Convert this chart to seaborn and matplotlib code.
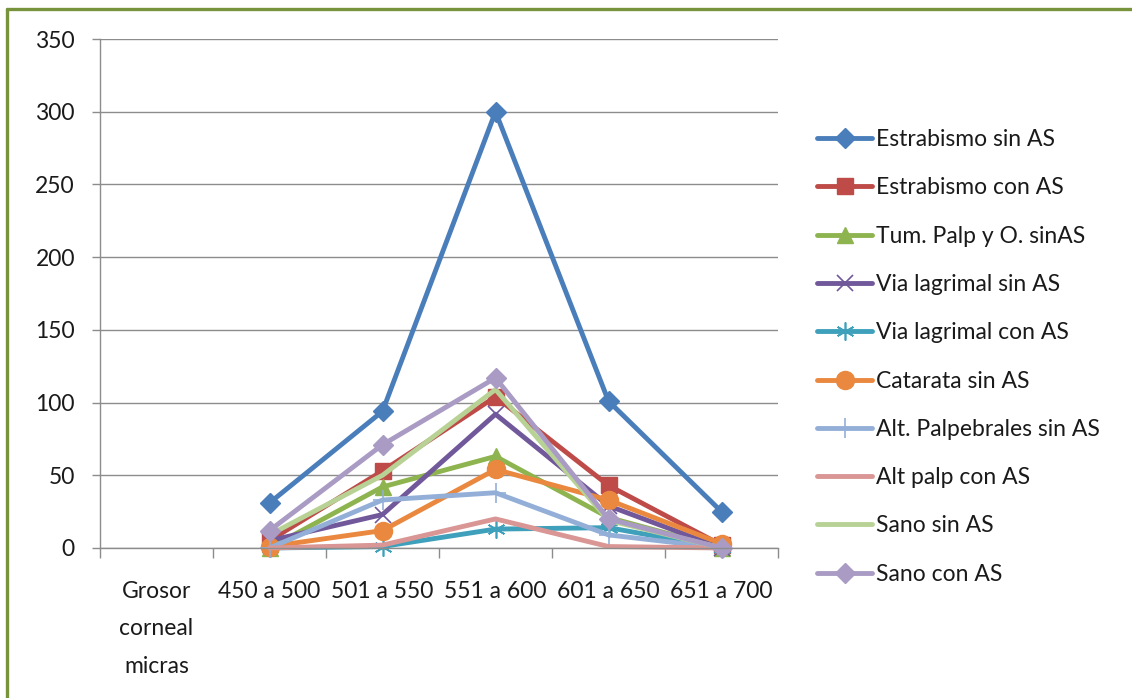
import matplotlib
matplotlib.use("Agg")
import matplotlib.pyplot as plt
from matplotlib.lines import Line2D
import seaborn as sns
import pandas as pd
import numpy as np

# Corneal thickness ranges (first slot is the axis caption, no data)
categories = ["Grosor\ncorneal\nmicras", "450 a 500", "501 a 550", "551 a 600",
              "601 a 650", "651 a 700"]

estrabismo_sin_as = [31, 94, 300, 101, 25]
estrabismo_con_as = [5, 53, 104, 43, 2]
tum_palp_sin_as = [0, 42, 63, 21, 0]
via_lagrimal_sin_as = [5, 23, 92, 29, 0]
via_lagrimal_con_as = [0, 1, 13, 14, 0]
catarata_sin_as = [1, 12, 54, 33, 3]
alt_palpebrales_sin_as = [0, 33, 38, 9, 0]
alt_palp_con_as = [0, 2, 20, 1, 0]
sano_sin_as = [9, 50, 109, 19, 0]
sano_con_as = [12, 71, 117, 20, 0]

series_names = ["Estrabismo sin AS", "Estrabismo con AS", "Tum. Palp y O. sinAS",
                "Via lagrimal sin AS", "Via lagrimal con AS", "Catarata sin AS",
                "Alt. Palpebrales sin AS", "Alt palp con AS", "Sano sin AS",
                "Sano con AS"]
series_values = [estrabismo_sin_as, estrabismo_con_as, tum_palp_sin_as,
                 via_lagrimal_sin_as, via_lagrimal_con_as, catarata_sin_as,
                 alt_palpebrales_sin_as, alt_palp_con_as, sano_sin_as, sano_con_as]

colors = ["#4A7EBB", "#BE4B48", "#8EB44F", "#71589A", "#3EA0BB", "#E9883E",
          "#93AFD8", "#D99694", "#B8D295", "#A99BC4"]
markers = ["D", "s", "^", "x", (6, 2, 0), "o", "+", "", "", "D"]
msizes = [10, 12, 11, 12, 13, 13, 15, 0, 0, 10]

sns.set_theme(style="white")
plt.rcParams["font.family"] = ["Lato", "DejaVu Sans"]

FS = 16.5
fig = plt.figure(figsize=(11.32, 6.98), dpi=100)
ax = fig.add_axes([100 / 1132, 1 - 548 / 698, 678 / 1132, 509 / 698])

# Data starts at the second slot (index 1)
x_idx = list(range(1, len(categories)))
for name, vals, col, mk, ms in zip(series_names, series_values, colors, markers, msizes):
    df = pd.DataFrame({"rango": x_idx, "valor": vals})
    sns.lineplot(data=df, x="rango", y="valor", ax=ax, color=col, lw=3.5,
                 marker=mk, markersize=ms, markeredgecolor=col,
                 markeredgewidth=1.2 if mk in ("x", "+", (6, 2, 0)) else 1.0,
                 label=name, clip_on=False)

ax.set_xlim(-0.5, len(categories) - 0.5)
ax.set_ylim(0, 350)
ax.set_yticks(np.arange(0, 351, 50))
ax.yaxis.grid(True, color="#8C8C8C", lw=1.0)
ax.xaxis.grid(False)

ax.set_xticks(range(len(categories)))
ax.set_xticklabels(categories, fontsize=FS, color="#1a1a1a", linespacing=1.95)
ax.set_xticks(np.arange(-0.5, len(categories), 1.0), minor=True)
ax.tick_params(axis="x", which="major", length=0, pad=24)
ax.tick_params(axis="x", which="minor", length=7, width=1, color="#8C8C8C",
               direction="out", bottom=True)
ax.tick_params(axis="y", length=6, width=1, color="#8C8C8C", direction="out",
               left=True, pad=12, labelsize=FS, labelcolor="#1a1a1a")
ax.set_xlabel("")
ax.set_ylabel("")

for side in ["top", "right"]:
    ax.spines[side].set_visible(False)
for side in ["left", "bottom"]:
    ax.spines[side].set_color("#8C8C8C")
    ax.spines[side].set_linewidth(1.0)

handles, labels = ax.get_legend_handles_labels()
ax.legend(handles, labels, loc="upper left", bbox_to_anchor=(808 / 1132, 1 - 120 / 698),
          bbox_transform=fig.transFigure, frameon=False, fontsize=FS,
          handlelength=2.4, handletextpad=0.17, labelspacing=1.19, borderaxespad=0,
          labelcolor="#1a1a1a")

# Olive frame edges
frame_col = "#77933C"
fig.add_artist(Line2D([7 / 1132, 1.0], [1 - 9 / 698, 1 - 9 / 698],
                      transform=fig.transFigure, color=frame_col, lw=2.4))
fig.add_artist(Line2D([7 / 1132, 7 / 1132], [0.0, 1 - 9 / 698],
                      transform=fig.transFigure, color=frame_col, lw=2.4))

fig.savefig("out.png", dpi=100)
